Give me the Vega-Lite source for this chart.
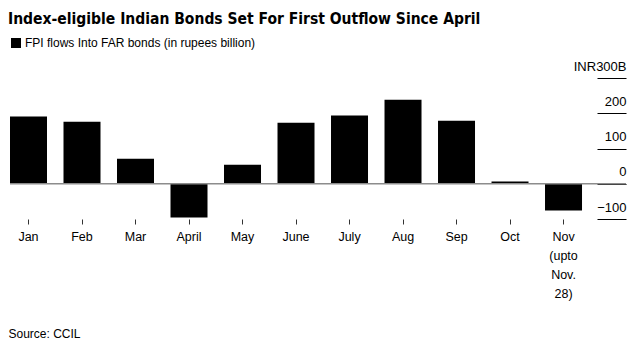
{
  "$schema": "https://vega.github.io/schema/vega-lite/v6.json",
  "width": 616,
  "height": 141,
  "autosize": {"type": "none"},
  "padding": {"left": 10, "top": 78, "right": 16, "bottom": 128},
  "background": "white",
  "title": {
    "text": "Index-eligible Indian Bonds Set For First Outflow Since April",
    "anchor": "start",
    "frame": "group",
    "font": "DejaVu Sans Condensed, Liberation Sans, sans-serif",
    "fontSize": 15.5,
    "fontWeight": "bold",
    "color": "#000000",
    "dx": -2,
    "offset": 10
  },
  "data": {
    "values": [
      {"month": "Jan", "value": 190.7, "series": "FPI flows Into FAR bonds (in rupees billion)"},
      {"month": "Feb", "value": 175.6, "series": "FPI flows Into FAR bonds (in rupees billion)"},
      {"month": "Mar", "value": 70.8, "series": "FPI flows Into FAR bonds (in rupees billion)"},
      {"month": "April", "value": -95.5, "series": "FPI flows Into FAR bonds (in rupees billion)"},
      {"month": "May", "value": 53.8, "series": "FPI flows Into FAR bonds (in rupees billion)"},
      {"month": "June", "value": 172.8, "series": "FPI flows Into FAR bonds (in rupees billion)"},
      {"month": "July", "value": 193.5, "series": "FPI flows Into FAR bonds (in rupees billion)"},
      {"month": "Aug", "value": 238, "series": "FPI flows Into FAR bonds (in rupees billion)"},
      {"month": "Sep", "value": 178.5, "series": "FPI flows Into FAR bonds (in rupees billion)"},
      {"month": "Oct", "value": 6.5, "series": "FPI flows Into FAR bonds (in rupees billion)"},
      {"month": "Nov (upto Nov. 28)", "value": -75.6, "series": "FPI flows Into FAR bonds (in rupees billion)"}
    ]
  },
  "layer": [
    {
      "mark": {"type": "bar", "strokeWidth": 0},
      "encoding": {
        "x": {
          "field": "month",
          "type": "nominal",
          "sort": null,
          "scale": {"paddingInner": 0.3084, "paddingOuter": 0.411, "align": 0},
          "axis": {
            "title": "Source: CCIL",
            "titleFont": "Liberation Sans",
            "titleFontSize": 12,
            "titleFontWeight": "normal",
            "titleColor": "#000000",
            "titleAnchor": "start",
            "titleAlign": "left",
            "titleBaseline": "middle",
            "titleX": -2,
            "titleY": 114,
            "domain": false,
            "ticks": true,
            "tickSize": 5,
            "tickColor": "#333333",
            "tickWidth": 1,
            "labelAngle": 0,
            "labelFont": "Liberation Sans",
            "labelFontSize": 12.5,
            "labelColor": "#000000",
            "labelPadding": 6,
            "labelBaseline": "top",
            "labelLineHeight": 19,
            "labelOverlap": false,
            "labelExpr": "datum.value == 'Nov (upto Nov. 28)' ? ['Nov', '(upto', 'Nov.', '28)'] : datum.label"
          }
        },
        "y": {
          "field": "value",
          "type": "quantitative",
          "scale": {"domain": [-100, 300], "nice": false, "zero": false},
          "axis": {
            "orient": "right",
            "title": null,
            "values": [-100, 0, 100, 200, 300],
            "domain": false,
            "grid": false,
            "ticks": true,
            "tickSize": -29,
            "tickColor": "#000000",
            "tickWidth": 1,
            "labelPadding": 29,
            "labelAlign": "right",
            "labelBaseline": "alphabetic",
            "labelOffset": -8,
            "labelOverlap": false,
            "labelFont": "Liberation Sans",
            "labelFontSize": 13,
            "labelColor": "#000000",
            "labelExpr": "datum.value == 300 ? 'INR300B' : datum.label"
          }
        },
        "color": {
          "field": "series",
          "type": "nominal",
          "scale": {"range": ["#000000"]},
          "legend": {
            "title": null,
            "orient": "none",
            "legendX": 0,
            "legendY": -41,
            "symbolType": "square",
            "symbolSize": 100,
            "symbolStrokeWidth": 0,
            "labelFont": "Liberation Sans",
            "labelFontSize": 12,
            "labelColor": "#000000",
            "labelLimit": 0,
            "labelOffset": 3
          }
        }
      }
    },
    {
      "data": {"values": [{"zero": 0}]},
      "mark": {"type": "rule", "color": "#8c8c8c", "strokeWidth": 1.5},
      "encoding": {
        "y": {
          "field": "zero",
          "type": "quantitative",
          "axis": {
            "orient": "right",
            "title": null,
            "values": [-100, 0, 100, 200, 300],
            "domain": false,
            "grid": false,
            "ticks": true,
            "tickSize": -29,
            "tickColor": "#000000",
            "tickWidth": 1,
            "labelPadding": 29,
            "labelAlign": "right",
            "labelBaseline": "alphabetic",
            "labelOffset": -8,
            "labelOverlap": false,
            "labelFont": "Liberation Sans",
            "labelFontSize": 13,
            "labelColor": "#000000",
            "labelExpr": "datum.value == 300 ? 'INR300B' : datum.label"
          }
        }
      }
    }
  ],
  "config": {"view": {"stroke": null}}
}
